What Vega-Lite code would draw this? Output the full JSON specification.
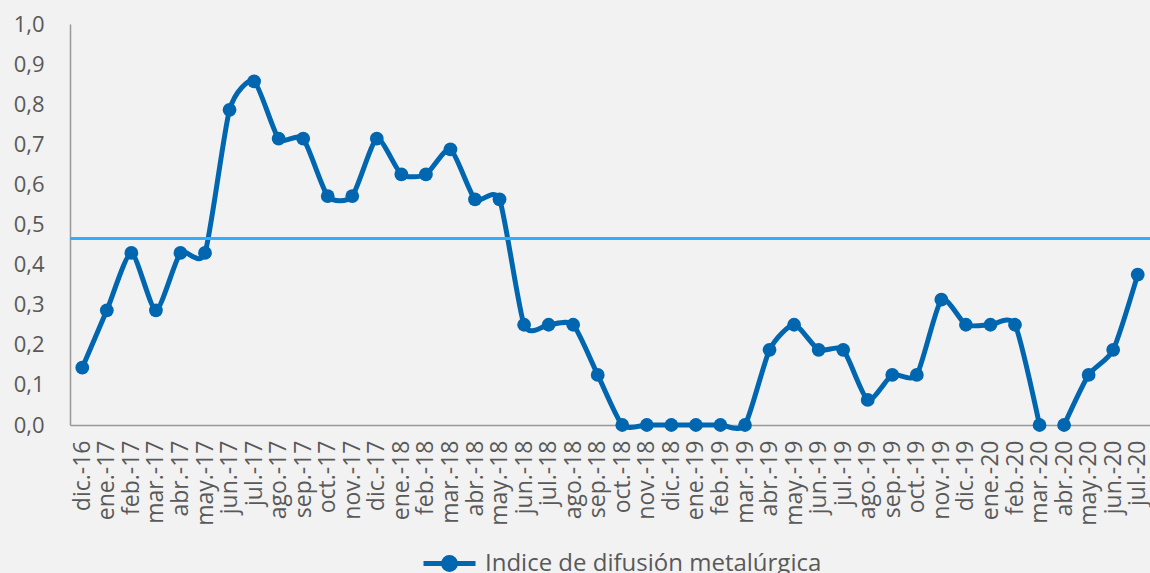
{
  "$schema": "https://vega.github.io/schema/vega-lite/v6.json",
  "width": 1080,
  "height": 401,
  "autosize": "none",
  "padding": {"left": 70, "top": 24, "right": 0, "bottom": 148},
  "background": "#f2f2f2",
  "config": {
    "view": {"stroke": null},
    "font": "Open Sans",
    "axis": {"labelFont": "Open Sans", "labelColor": "#595959", "domainColor": "#999999", "domainWidth": 1.5, "ticks": false, "grid": false, "title": null},
    "legend": {"labelFont": "Open Sans", "labelColor": "#595959"}
  },
  "data": {
    "values": [
      {"mes": "dic.-16", "v": 0.143, "t": 1},
      {"mes": "ene.-17", "v": 0.286, "t": 1},
      {"mes": "feb.-17", "v": 0.429, "t": 1},
      {"mes": "mar.-17", "v": 0.286, "t": 1},
      {"mes": "abr.-17", "v": 0.429, "t": 1},
      {"mes": "may.-17", "v": 0.429, "t": 1},
      {"mes": "jun.-17", "v": 0.786, "t": 1},
      {"mes": "jul.-17", "v": 0.857, "t": 1},
      {"mes": "ago.-17", "v": 0.714, "t": 1},
      {"mes": "sep.-17", "v": 0.714, "t": 1},
      {"mes": "oct.-17", "v": 0.571, "t": 1},
      {"mes": "nov.-17", "v": 0.571, "t": 1},
      {"mes": "dic.-17", "v": 0.714, "t": 1},
      {"mes": "ene.-18", "v": 0.625, "t": 1},
      {"mes": "feb.-18", "v": 0.625, "t": 1},
      {"mes": "mar.-18", "v": 0.6875, "t": 1},
      {"mes": "abr.-18", "v": 0.5625, "t": 1},
      {"mes": "may.-18", "v": 0.5625, "t": 1},
      {"mes": "jun.-18", "v": 0.25, "t": 1},
      {"mes": "jul.-18", "v": 0.25, "t": 1},
      {"mes": "ago.-18", "v": 0.25, "t": 1},
      {"mes": "sep.-18", "v": 0.125, "t": 1},
      {"mes": "oct.-18", "v": 0, "t": 1},
      {"mes": "nov.-18", "v": 0, "t": 1},
      {"mes": "dic.-18", "v": 0, "t": 1},
      {"mes": "ene.-19", "v": 0, "t": 1},
      {"mes": "feb.-19", "v": 0, "t": 1},
      {"mes": "mar.-19", "v": 0, "t": 1},
      {"mes": "abr.-19", "v": 0.1875, "t": 1},
      {"mes": "may.-19", "v": 0.25, "t": 1},
      {"mes": "jun.-19", "v": 0.1875, "t": 1},
      {"mes": "jul.-19", "v": 0.1875, "t": 1},
      {"mes": "ago.-19", "v": 0.0625, "t": 1},
      {"mes": "sep.-19", "v": 0.125, "t": 1},
      {"mes": "oct.-19", "v": 0.125, "t": 1},
      {"mes": "nov.-19", "v": 0.3125, "t": 1},
      {"mes": "dic.-19", "v": 0.25, "t": 1},
      {"mes": "ene.-20", "v": 0.25, "t": 1},
      {"mes": "feb.-20", "v": 0.25, "t": 1},
      {"mes": "mar.-20", "v": 0, "t": 1},
      {"mes": "abr.-20", "v": 0, "t": 2},
      {"mes": "may.-20", "v": 0.125, "t": 2},
      {"mes": "jun.-20", "v": 0.1875, "t": 2},
      {"mes": "jul.-20", "v": 0.375, "t": 2}
    ]
  },
  "encoding": {
    "x": {"field": "mes", "type": "ordinal", "sort": null,
      "axis": {"labelAngle": -90, "labelAlign": "right", "labelBaseline": "middle", "labelFontSize": 23, "labelPadding": 15}},
    "y": {"field": "v", "type": "quantitative", "scale": {"domain": [0, 1], "nice": false},
      "axis": {"values": [0, 0.1, 0.2, 0.3, 0.4, 0.5, 0.6, 0.7, 0.8, 0.9, 1.0], "labelFontSize": 22, "labelPadding": 26,
        "labelExpr": "replace(format(datum.value, '.1f'), '.', ',')"}}
  },
  "layer": [
    {
      "mark": {"type": "line", "interpolate": "cardinal", "tension": 0.35, "strokeWidth": 5},
      "encoding": {
        "detail": {"field": "t", "type": "nominal"},
        "color": {"datum": "Indice de difusión metalúrgica", "type": "nominal",
          "scale": {"range": ["#0066b0"]},
          "legend": {"orient": "none", "legendX": 351, "legendY": 511, "title": null, "labelFontSize": 24, "labelOffset": 7, "labelLimit": 700,
            "symbolType": "M-1,0L1,0M0.23,0A0.23,0.23,0,1,1,-0.23,0A0.23,0.23,0,1,1,0.23,0Z",
            "symbolSize": 2704, "symbolStrokeWidth": 5, "symbolStrokeColor": "#0066b0", "symbolFillColor": "#0066b0"}}
      }
    },
    {
      "mark": {"type": "point", "filled": true, "size": 190, "opacity": 1},
      "encoding": {
        "color": {"datum": "Indice de difusión metalúrgica", "type": "nominal"}
      }
    },
    {
      "mark": {"type": "rule", "color": "#33adff", "strokeWidth": 2},
      "encoding": {"y": {"datum": 0.465}, "x": null}
    }
  ]
}
